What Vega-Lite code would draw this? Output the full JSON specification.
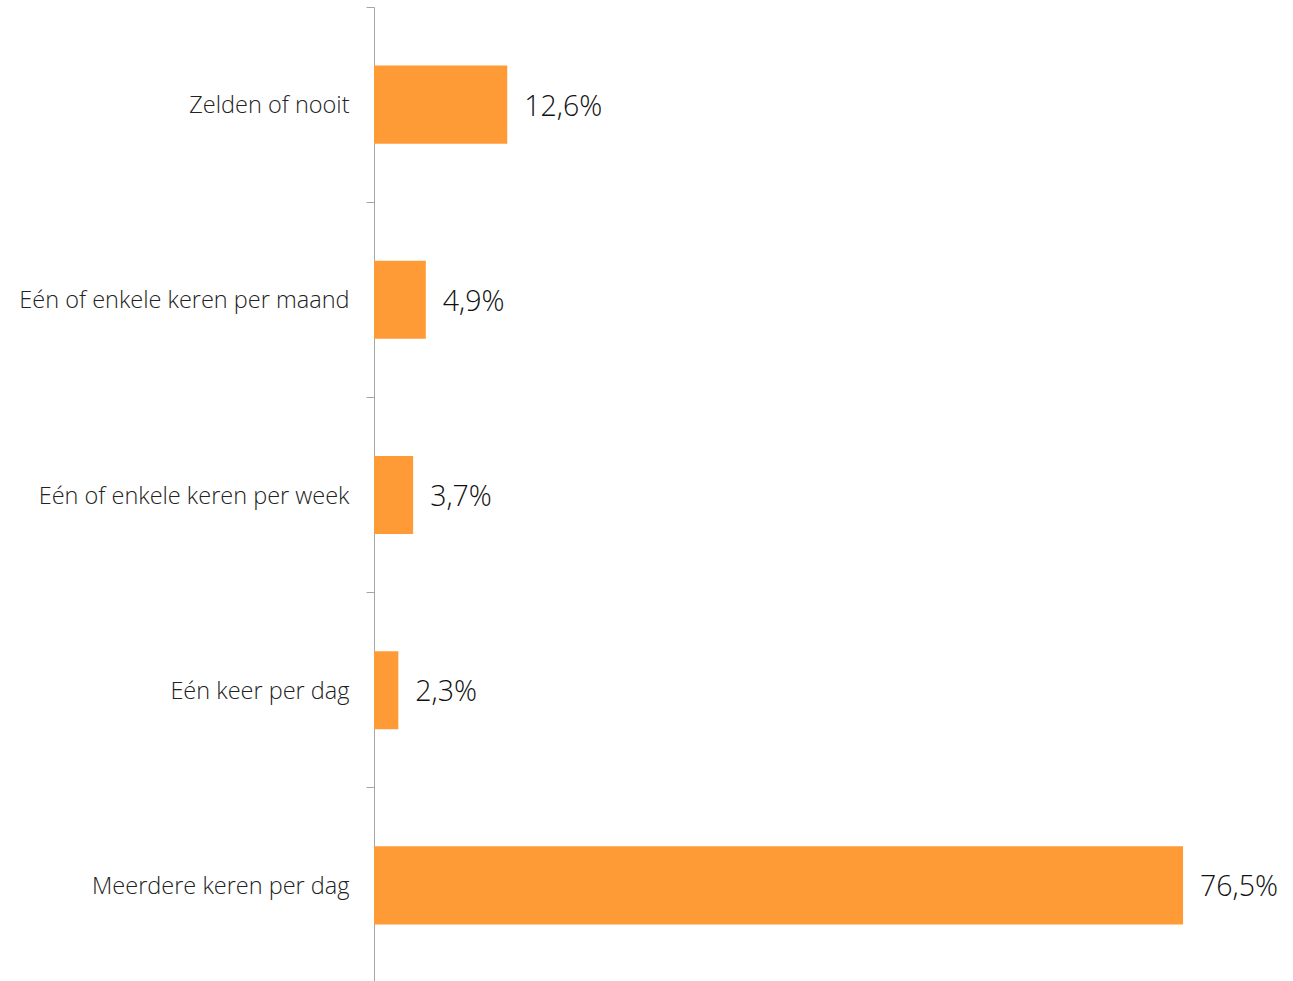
{
  "$schema": "https://vega.github.io/schema/vega-lite/v6.json",
  "autosize": "none",
  "width": 900,
  "height": 976,
  "padding": {"left": 374, "top": 7, "right": 19, "bottom": 0},
  "background": "white",
  "data": {"values": [
    {"cat": "Zelden of nooit", "pct": 12.6, "label": "12,6%"},
    {"cat": "Eén of enkele keren per maand", "pct": 4.9, "label": "4,9%"},
    {"cat": "Eén of enkele keren per week", "pct": 3.7, "label": "3,7%"},
    {"cat": "Eén keer per dag", "pct": 2.3, "label": "2,3%"},
    {"cat": "Meerdere keren per dag", "pct": 76.5, "label": "76,5%"}
  ]},
  "encoding": {
    "y": {"field": "cat", "type": "nominal", "sort": null,
      "scale": {"paddingInner": 0, "paddingOuter": 0},
      "axis": {"title": null, "bandPosition": 0, "domainColor": "#a6a6a6", "tickColor": "#a6a6a6", "tickSize": 8, "labelPadding": 17, "labelFont": "Open Sans", "labelFontWeight": 300, "labelFontSize": 23.5, "labelColor": "#222222", "labelOffset": 1.5, "labelLimit": 0, "grid": false}},
    "x": {"field": "pct", "type": "quantitative", "scale": {"domain": [0, 85.1]}, "axis": null}
  },
  "layer": [
    {"mark": {"type": "bar", "color": "#FF9B37", "height": {"band": 0.4}}},
    {"mark": {"type": "text", "align": "left", "baseline": "middle", "dx": 17, "dy": 2, "font": "Open Sans", "fontWeight": 300, "fontSize": 28.5, "color": "#111111"},
     "encoding": {"text": {"field": "label"}}}
  ],
  "config": {"view": {"stroke": null}}
}
